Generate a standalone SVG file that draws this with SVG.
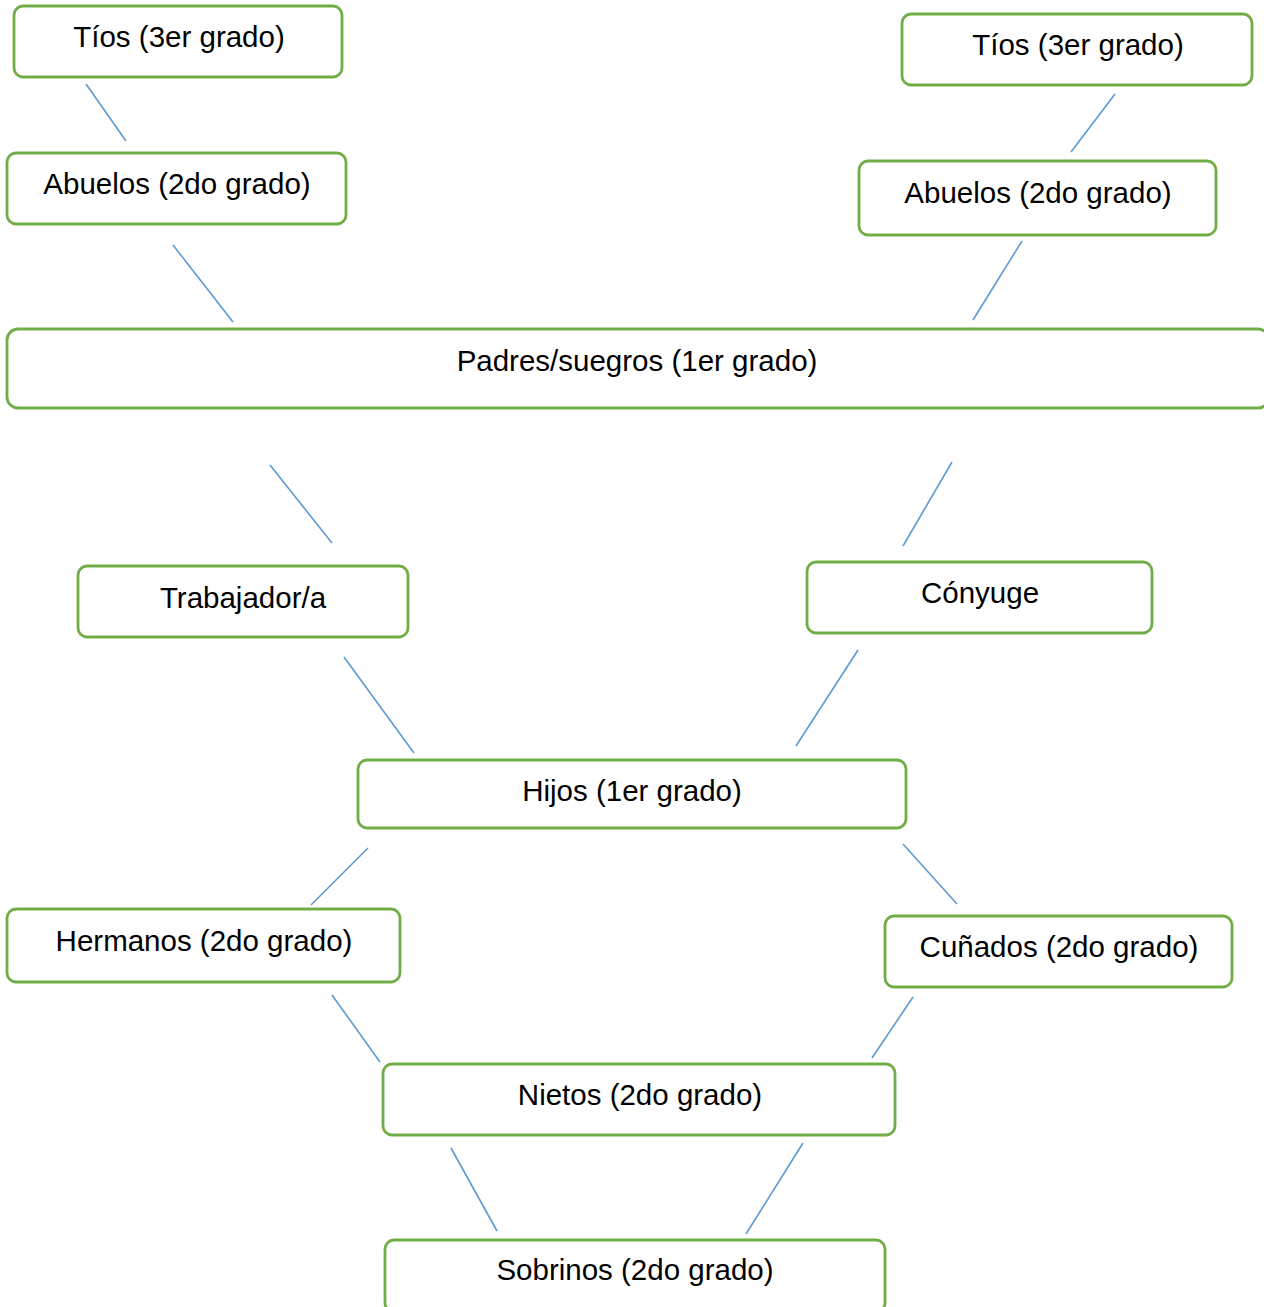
<svg xmlns="http://www.w3.org/2000/svg" width="1264" height="1307" viewBox="0 0 1264 1307">
<style>
.box{fill:#fff;stroke:#70AD47;stroke-width:2.8}
.t{font-family:"Liberation Sans",Arial,sans-serif;font-size:29.5px;fill:#000;text-anchor:middle}
.c line{stroke:#5B9BD5;stroke-width:1.6}
</style>
<rect width="1264" height="1307" fill="#fff"/>
<g class="c" id="connectors">
<line x1="86" y1="84" x2="126" y2="141"/>
<line x1="1115" y1="94" x2="1071" y2="152"/>
<line x1="173" y1="245" x2="233" y2="322"/>
<line x1="1022" y1="241" x2="973" y2="320"/>
<line x1="270" y1="465" x2="332" y2="543"/>
<line x1="952" y1="462" x2="903" y2="546"/>
<line x1="344" y1="657" x2="414" y2="753"/>
<line x1="858" y1="650" x2="796" y2="746"/>
<line x1="368" y1="848" x2="311" y2="905"/>
<line x1="903" y1="844" x2="957" y2="904"/>
<line x1="332" y1="995" x2="380" y2="1062"/>
<line x1="913" y1="997" x2="872" y2="1058"/>
<line x1="451" y1="1148" x2="497" y2="1231"/>
<line x1="803" y1="1143" x2="746" y2="1234"/>
</g>
<g id="tios-l"><rect class="box" x="14" y="6" width="328" height="71" rx="9"/><text class="t" x="179" y="47">Tíos (3er grado)</text></g>
<g id="abuelos-l"><rect class="box" x="7" y="153" width="339" height="71" rx="9"/><text class="t" x="177" y="194">Abuelos (2do grado)</text></g>
<g id="tios-r"><rect class="box" x="902" y="14" width="350" height="71" rx="9"/><text class="t" x="1078" y="55">Tíos (3er grado)</text></g>
<g id="abuelos-r"><rect class="box" x="859" y="161" width="357" height="74" rx="9"/><text class="t" x="1038" y="203">Abuelos (2do grado)</text></g>
<g id="padres"><rect class="box" x="7" y="329" width="1262" height="79" rx="11"/><text class="t" x="637" y="371">Padres/suegros (1er grado)</text></g>
<g id="trabajador"><rect class="box" x="78" y="566" width="330" height="71" rx="9"/><text class="t" x="243" y="608">Trabajador/a</text></g>
<g id="conyuge"><rect class="box" x="807" y="562" width="345" height="71" rx="9"/><text class="t" x="980" y="603">Cónyuge</text></g>
<g id="hijos"><rect class="box" x="358" y="760" width="548" height="68" rx="9"/><text class="t" x="632" y="801">Hijos (1er grado)</text></g>
<g id="hermanos"><rect class="box" x="7" y="909" width="393" height="73" rx="9"/><text class="t" x="204" y="951">Hermanos (2do grado)</text></g>
<g id="cunados"><rect class="box" x="885" y="916" width="347" height="71" rx="9"/><text class="t" x="1059" y="957">Cuñados (2do grado)</text></g>
<g id="nietos"><rect class="box" x="383" y="1064" width="512" height="71" rx="9"/><text class="t" x="640" y="1105">Nietos (2do grado)</text></g>
<g id="sobrinos"><rect class="box" x="385" y="1240" width="500" height="72" rx="9"/><text class="t" x="635" y="1280">Sobrinos (2do grado)</text></g>
</svg>
